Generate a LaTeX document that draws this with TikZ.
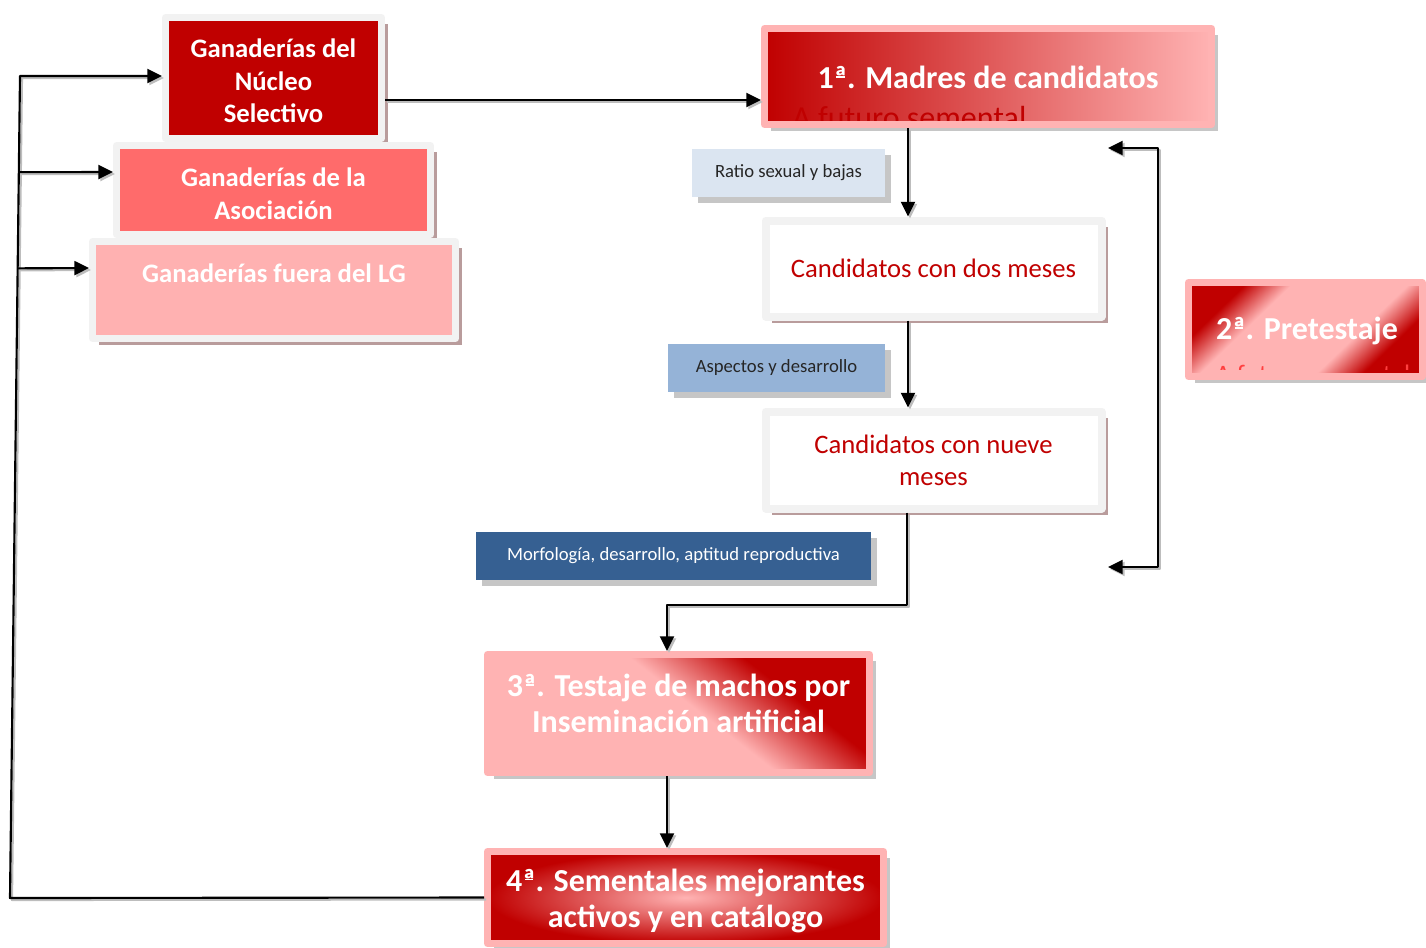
\documentclass[tikz,border=0pt]{standalone}
\usepackage{fontspec}
\setmainfont{Carlito}
\usetikzlibrary{arrows.meta,shadows,calc}

\definecolor{ngred}{HTML}{C00000}
\definecolor{asocred}{HTML}{FF6B6B}
\definecolor{lgpink}{HTML}{FFB1B1}
\definecolor{framegray}{HTML}{F2F2F2}
\definecolor{framepink}{HTML}{FFB3B3}
\definecolor{shadowgray}{HTML}{C6C6C6}
\definecolor{shadowred}{HTML}{B99C9C}
\definecolor{ratioblue}{HTML}{DBE5F1}
\definecolor{aspblue}{HTML}{95B3D7}
\definecolor{morfblue}{HTML}{366092}
\definecolor{arrshadow}{HTML}{BDBDBD}

% sombreados de las etapas
\pgfdeclarehorizontalshading{pretest}{100bp}{color(0bp)=(ngred); color(27bp)=(ngred);
  color(37bp)=(framepink); color(62bp)=(framepink); color(72bp)=(ngred); color(100bp)=(ngred)}
\pgfdeclarehorizontalshading{testaje}{100bp}{color(0bp)=(framepink); color(53bp)=(framepink);
  color(68bp)=(ngred); color(100bp)=(ngred)}

% ordinal subrayado
\newcommand{\ordmark}{{\setbox0\hbox{ª}\rlap{ª}\makebox[\wd0][c]{\rule[0.33em]{0.62\wd0}{0.06em}}}}

\begin{document}
\begin{tikzpicture}[x=0.75pt,y=-0.75pt,line join=round,>={Triangle[length=11pt,width=10.5pt]}]
\tikzset{
  stackbox/.style={draw=framegray,line width=5.25pt,text=white,align=center,inner sep=0pt,
    font=\bfseries\fontsize{20}{24.5}\selectfont,
    drop shadow={shadow xshift=5pt,shadow yshift=-5pt,fill=shadowred,opacity=1}},
  stagebox/.style={draw=framepink,line width=5.25pt,text=white,align=center,inner sep=0pt,
    font=\bfseries\fontsize{24}{27}\selectfont,
    drop shadow={shadow xshift=4.5pt,shadow yshift=-4.5pt,fill=shadowgray,opacity=1}},
  candbox/.style={draw=framegray,fill=white,line width=6pt,text=ngred,align=center,inner sep=0pt,
    font=\fontsize{20}{24}\selectfont,minimum width=252pt,
    drop shadow={shadow xshift=5pt,shadow yshift=-5pt,fill=shadowred,opacity=1}},
  tagbox/.style={inner sep=0pt,minimum height=36pt,font=\fontsize{14}{16}\selectfont,
    drop shadow={shadow xshift=4.5pt,shadow yshift=-4.5pt,fill=shadowgray,opacity=1}},
  whitetext/.style={text=white,align=center,inner sep=0pt},
  hiddentext/.style={inner sep=0pt,anchor=base west},
  conn/.style={line width=1.6pt,
    preaction={draw=arrshadow,line width=1.6pt,transform canvas={shift={(1.5pt,-1.5pt)}}}}
}
\useasboundingbox (0,0) rectangle (1426,947);

% ganaderias (left stack)
\node[stackbox,fill=ngred,minimum width=162pt,minimum height=90.75pt] (ns) at (273.5,78) {};
\node[whitetext,font=\bfseries\fontsize{20}{24.5}\selectfont] (nstxt) at (273.5,81)
  {Ganaderías del\\Núcleo\\Selectivo};
\node[stackbox,fill=asocred,minimum width=235.5pt,minimum height=66.75pt] (asoc) at (273.5,190) {};
\node[whitetext,font=\bfseries\fontsize{20}{24.5}\selectfont] (asoctxt) at (273.5,193.5)
  {Ganaderías de la\\Asociación};
\node[stackbox,fill=lgpink,minimum width=272.25pt,minimum height=72.75pt] (lg) at (274,290) {};
\node[whitetext,font=\bfseries\fontsize{20}{24.5}\selectfont] (lgtxt) at (274,273) {Ganaderías fuera del LG};

% etapas
\node[stagebox,left color=ngred,right color=framepink,minimum width=335.25pt,minimum height=72pt] (m1) at (988,76.5) {};
\begin{scope}
  \clip (768,32) rectangle (1208,120);
  \node[hiddentext,text=ngred,font=\fontsize{24}{27}\selectfont] (m1sub) at (792,128) {A futuro semental};
\end{scope}
\node[whitetext,font=\bfseries\fontsize{24}{27}\selectfont] (m1txt) at (988,77) {1\ordmark. Madres de candidatos};

\node[stagebox,shading=pretest,shading angle=-46,
  minimum width=175.5pt,minimum height=70.5pt] (p2) at (1305.5,329.5) {};
\begin{scope}
  \clip (1192,287) rectangle (1420,369);
  \node[hiddentext,text=red!75,font=\fontsize{20}{24}\selectfont] (p2sub) at (1215,383) {A futuro semental};
\end{scope}
\node[whitetext,font=\bfseries\fontsize{24}{27}\selectfont] (p2txt) at (1307,331) {2\ordmark. Pretestaje};

\node[stagebox,shading=testaje,shading angle=52,
  minimum width=286.5pt,minimum height=88.5pt] (t3) at (678.5,713.5) {};
\node[whitetext,font=\bfseries\fontsize{24}{27}\selectfont] (t3txt) at (678.5,703)
  {3\ordmark. Testaje de machos por\\Inseminación artificial};

\node[stagebox,inner color=framepink,outer color=ngred,minimum width=297pt,minimum height=69pt] (f4) at (685.5,897.5) {};
\node[whitetext,font=\bfseries\fontsize{24}{27}\selectfont] (f4txt) at (685.5,900.5)
  {4\ordmark. Sementales mejorantes\\activos y en catálogo};

% candidatos
\node[candbox,minimum height=72pt] (dos) at (933.5,268.5) {Candidatos con dos meses};
\node[candbox,minimum height=72.75pt] (nueve) at (933.5,460) {Candidatos con nueve\\meses};

% criterios
\node[tagbox,fill=ratioblue,text=black!85,minimum width=144.75pt] (ratio) at (788.5,173) {Ratio sexual y bajas};
\node[tagbox,fill=aspblue,text=black!85,minimum width=162.75pt] (asp) at (776.5,368) {Aspectos y desarrollo};
\node[tagbox,fill=morfblue,text=white,minimum width=296.25pt] (morf) at (673.5,556) {Morfología, desarrollo, aptitud reproductiva};

% conectores
\coordinate (lt) at (20,76);
\coordinate (lb) at (10,898);
\coordinate (rt) at (1158,148);
\coordinate (rb) at (1158,567);
\coordinate (bt) at (1108,148);
\coordinate (bb) at (1108,567);

\draw[conn,->] (f4.west) -- (lb) -- (lt) -- (lt -| ns.west);
\draw[conn,->] ($(lt)!0.117!(lb)$) -- (asoc.west |- 0,172);
\draw[conn,->] ($(lt)!0.234!(lb)$) -- (lg.west |- 0,268);
\draw[conn,->] (ns.east |- 0,100) -- (m1.west |- 0,100);
\draw[conn,->] (m1.south -| 908,0) -- (dos.north -| 908,0);
\draw[conn,->] (dos.south -| 908,0) -- (nueve.north -| 908,0);
\draw[conn,->] (nueve.south -| 907,0) -- (907,605) -| (t3.north -| 667,0);
\draw[conn,->] (t3.south -| 667,0) -- (f4.north -| 667,0);
\draw[conn,<->] (bt) -- (rt) -- (rb) -- (bb);
\end{tikzpicture}
\end{document}
